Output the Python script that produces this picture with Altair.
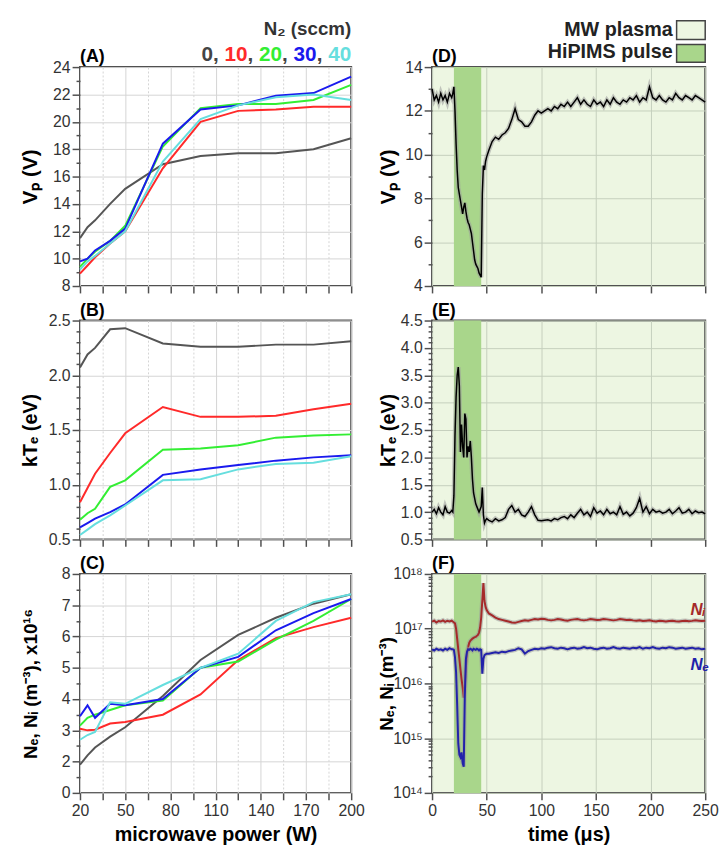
import altair as alt
import pandas as pd

FONT = "Liberation Sans"
LW, RW, H = 275, 277, 222

# ---------------- left column data ----------------
power = [20, 25, 30, 40, 50, 75, 100, 125, 150, 175, 200]
n2_levels = ["0", "10", "20", "30", "40"]
n2_colors = ["#555555", "#ff2a2a", "#33ee33", "#1a1aee", "#66dede"]

vp_power = {
    "0":  [11.5, 12.3, 12.8, 14.0, 15.1, 16.9, 17.5, 17.7, 17.7, 18.0, 18.8],
    "10": [8.9, 9.5, 10.1, 11.1, 12.0, 16.6, 20.0, 20.8, 20.9, 21.1, 21.1],
    "20": [9.4, 10.0, 10.5, 11.3, 12.4, 18.2, 21.0, 21.3, 21.3, 21.6, 22.7],
    "30": [9.8, 10.0, 10.6, 11.3, 12.2, 18.4, 20.9, 21.2, 21.9, 22.1, 23.3],
    "40": [9.2, 9.8, 10.2, 11.1, 12.0, 17.1, 20.2, 21.2, 21.8, 22.0, 21.6],
}
kte_power = {
    "0":  [2.07, 2.19, 2.25, 2.42, 2.43, 2.29, 2.26, 2.26, 2.28, 2.28, 2.31],
    "10": [0.84, 0.97, 1.10, 1.29, 1.47, 1.71, 1.62, 1.62, 1.63, 1.69, 1.74],
    "20": [0.68, 0.74, 0.78, 0.98, 1.04, 1.32, 1.33, 1.36, 1.43, 1.45, 1.46],
    "30": [0.61, 0.65, 0.69, 0.75, 0.82, 1.09, 1.14, 1.18, 1.22, 1.25, 1.27],
    "40": [0.54, 0.59, 0.64, 0.72, 0.81, 1.04, 1.05, 1.14, 1.19, 1.20, 1.26],
}
# values on the panel's printed scale (bottom gridline printed as "0")
n_power = {
    "0":  [1.9, 2.2, 2.45, 2.8, 3.1, 4.1, 5.25, 6.05, 6.6, 7.05, 7.35],
    "10": [3.05, 3.0, 3.02, 3.22, 3.27, 3.5, 4.15, 5.25, 5.95, 6.3, 6.6],
    "20": [3.15, 3.4, 3.5, 3.65, 3.8, 3.95, 5.0, 5.2, 5.9, 6.5, 7.2],
    "30": [3.45, 3.8, 3.4, 3.85, 3.8, 4.0, 5.0, 5.35, 6.2, 6.75, 7.2],
    "40": [2.7, 2.85, 2.95, 3.9, 3.85, 4.45, 5.0, 5.45, 6.5, 7.1, 7.35],
}

# ---------------- right column data ----------------
t_pre = [0, 2, 4, 6, 8, 10, 12, 14, 16, 18]
t_pulse = [19, 20, 21, 22, 23, 24, 25, 26, 27, 28, 29, 30, 31, 32, 33, 34, 35, 36,
           37, 38, 39, 40, 41, 42, 43, 44, 45, 46, 47, 48, 49, 50]
t_post = [52, 55, 58, 61, 64, 67, 70, 73, 76, 79,
          82, 85, 88, 91, 94, 97, 100, 103, 106, 109,
          112, 115, 118, 121, 124, 127, 130, 133, 136, 139,
          142, 145, 148, 151, 154, 157, 160, 163, 166, 169,
          172, 175, 178, 181, 184, 187, 190, 193, 196, 199,
          202, 205, 208, 211, 214, 217, 220, 223, 226, 229,
          232, 235, 238, 241, 244, 247, 250]
time_us = t_pre + t_pulse + t_post

vp_time = ([13.0, 12.5, 12.7, 12.4, 12.8, 12.5, 12.7, 12.4, 12.8, 12.6] +
           [12.8, 13.1, 12.0, 10.5, 9.3, 8.5, 8.2, 7.9, 7.6, 7.3,
            7.6, 7.8, 7.4, 7.1, 6.9, 6.8, 6.6, 6.4, 6.0, 5.6,
            5.2, 5.0, 4.9, 4.8, 4.6, 4.5, 4.4, 8.2, 9.5, 9.3,
            9.7, 9.9] +
           [10.2, 10.6, 10.8, 10.7, 10.9, 11.0, 11.2, 11.6, 12.1, 11.6,
            11.5, 11.3, 11.3, 11.5, 11.8, 12.0, 11.9, 12.0, 12.1, 12.0,
            12.2, 12.1, 12.3, 12.2, 12.4, 12.2, 12.4, 12.6, 12.3, 12.5,
            12.3, 12.2, 12.5, 12.3, 12.4, 12.2, 12.5, 12.3, 12.6, 12.4,
            12.3, 12.5, 12.4, 12.6, 12.5, 12.7, 12.4, 12.6, 12.5, 13.1,
            12.6, 12.5, 12.7, 12.5, 12.4, 12.6, 12.5, 12.8, 12.6, 12.5,
            12.7, 12.6, 12.5, 12.7, 12.6, 12.5, 12.4])

kte_time = ([1.0, 1.05, 0.97, 1.08, 1.0, 0.95, 1.1, 1.0, 0.98, 1.03] +
            [1.0, 1.3, 2.4, 3.1, 3.5, 3.65, 3.3, 2.1, 2.6, 2.2,
             2.0, 2.8, 2.7, 2.0, 2.2, 2.1, 2.3, 2.0, 1.6, 1.35,
             1.25, 1.15, 1.1, 1.05, 1.0, 1.05, 1.1, 1.45, 0.95, 0.8,
             0.85, 0.88] +
            [0.85, 0.82, 0.88, 0.84, 0.86, 0.9, 1.05, 1.12, 1.0, 1.05,
             0.95, 0.92, 1.0, 1.1, 0.95, 0.85, 0.84, 0.85, 0.86, 0.84,
             0.88, 0.86, 0.9, 0.92, 0.88, 0.95, 0.9, 0.98, 1.05, 0.95,
             1.0, 0.92, 1.08, 0.98, 1.02, 0.95, 1.05, 0.97, 1.0, 0.95,
             1.1, 0.96, 1.0, 0.93, 0.98, 1.08, 1.25, 1.0, 1.1, 0.97,
             1.05, 1.0, 1.02, 0.98, 1.0, 1.05, 0.97, 1.02, 1.08, 0.98,
             1.0, 1.05, 0.97, 1.02, 0.99, 1.0, 0.97])

ni_time = ([1.35e17, 1.4e17, 1.3e17, 1.38e17, 1.35e17, 1.42e17, 1.33e17, 1.4e17, 1.36e17, 1.4e17] +
           [1.35e17, 1.3e17, 1.25e17, 1.0e17, 6.5e16, 4.2e16, 2.8e16, 1.8e16, 1.2e16, 8.5e15,
            5.5e15, 9e15, 2e16, 3.5e16, 4.6e16, 5.5e16, 6.0e16, 6.3e16, 6.6e16, 6.8e16,
            7.0e16, 7.1e16, 7.4e16, 7.7e16, 8.5e16, 1.05e17, 1.6e17, 3.3e17, 6.8e17, 3.2e17,
            2.5e17, 2.2e17] +
           [1.9e17, 1.75e17, 1.6e17, 1.5e17, 1.45e17, 1.4e17, 1.35e17, 1.3e17, 1.28e17, 1.33e17,
            1.38e17, 1.42e17, 1.4e17, 1.45e17, 1.5e17, 1.48e17, 1.52e17, 1.5e17, 1.45e17, 1.42e17,
            1.45e17, 1.5e17, 1.47e17, 1.43e17, 1.4e17, 1.45e17, 1.48e17, 1.5e17, 1.45e17, 1.42e17,
            1.45e17, 1.5e17, 1.47e17, 1.44e17, 1.46e17, 1.5e17, 1.48e17, 1.45e17, 1.42e17, 1.45e17,
            1.5e17, 1.47e17, 1.44e17, 1.46e17, 1.42e17, 1.4e17, 1.43e17, 1.38e17, 1.4e17, 1.42e17,
            1.38e17, 1.36e17, 1.4e17, 1.38e17, 1.35e17, 1.38e17, 1.4e17, 1.37e17, 1.35e17, 1.38e17,
            1.4e17, 1.37e17, 1.39e17, 1.42e17, 1.4e17, 1.38e17, 1.4e17])

ne_time = ([4.2e16, 4.0e16, 4.3e16, 4.1e16, 4.2e16, 4.0e16, 4.3e16, 4.1e16, 4.4e16, 4.2e16] +
           [4.2e16, 4.1e16, 3.0e16, 1.6e16, 4e15, 8e14, 5e14, 4.5e14, 5.5e14, 3.5e14,
            3e14, 6e15, 2.8e16, 3.8e16, 4.2e16, 4.1e16, 4.3e16, 4.2e16, 4.0e16, 4.3e16,
            4.2e16, 4.1e16, 4.3e16, 4.2e16, 4.0e16, 4.2e16, 4.1e16, 1.5e16, 2.8e16, 3.3e16,
            3.4e16, 3.5e16] +
           [3.5e16, 3.6e16, 3.7e16, 3.6e16, 3.8e16, 3.7e16, 3.9e16, 4.0e16, 4.1e16, 4.4e16,
            4.2e16, 3.5e16, 3.9e16, 4.1e16, 4.3e16, 4.2e16, 4.4e16, 4.3e16, 4.5e16, 4.6e16,
            4.4e16, 4.3e16, 4.5e16, 4.4e16, 4.2e16, 4.4e16, 4.5e16, 4.3e16, 4.4e16, 4.6e16,
            4.4e16, 4.5e16, 4.3e16, 4.2e16, 4.4e16, 4.5e16, 4.3e16, 4.4e16, 4.6e16, 4.4e16,
            4.3e16, 4.5e16, 4.4e16, 4.3e16, 4.5e16, 4.4e16, 4.6e16, 4.3e16, 4.5e16, 4.4e16,
            4.6e16, 4.4e16, 4.3e16, 4.5e16, 4.4e16, 4.6e16, 4.5e16, 4.3e16, 4.4e16, 4.5e16,
            4.3e16, 4.4e16, 4.5e16, 4.3e16, 4.4e16, 4.2e16, 4.3e16])

pulse_window = {"start": [20], "end": [45]}

# axis tick values
x_left_ticks = [20, 35, 50, 65, 80, 95, 110, 125, 140, 155, 170, 185, 200]
x_right_ticks = [0, 25, 50, 75, 100, 125, 150, 175, 200, 225, 250]
yA_ticks = list(range(8, 25))
yB_ticks = [round(0.5 + 0.1 * i, 1) for i in range(21)]
yC_ticks = [1, 1.5, 2, 2.5, 3, 3.5, 4, 4.5, 5, 5.5, 6, 6.5, 7, 7.5, 8]
yD_ticks = list(range(4, 15))
yE_ticks = [round(0.5 + 0.1 * i, 1) for i in range(41)]
yF_ticks = [m * 10 ** e for e in range(14, 18) for m in range(1, 10)] + [10 ** 18]


def long_df(d):
    rows = []
    for lvl, vals in d.items():
        for p, v in zip(power, vals):
            rows.append({"power": p, "val": v, "n2": lvl})
    return pd.DataFrame(rows)


EVEN = "datum.value % 2 == 0"
HALF = "abs(datum.value*2 - round(datum.value*2)) < 0.001"
INT = "abs(datum.value - round(datum.value)) < 0.001"
DEC = "abs(log(datum.value)/LN10 - round(log(datum.value)/LN10)) < 0.001"


def yaxis(title, values, major, label_expr, title_x, tsize, grid_color="#d4d4d4"):
    return alt.Axis(
        title=title, values=values, labelExpr=label_expr,
        grid=True, gridColor=grid_color,
        gridOpacity={"condition": {"test": major, "value": 1}, "value": 0},
        tickSize={"condition": {"test": major, "value": 8}, "value": 4},
        labelPadding=2, titleFontSize=tsize,
        titleX=title_x, titleY=H / 2, titleBaseline="alphabetic",
        titleAngle=270, titleAlign="center")


def xaxis_left(show):
    major = "(datum.value - 20) % 30 == 0"
    return alt.Axis(
        values=x_left_ticks, labels=show, title="microwave power (W)" if show else None,
        labelExpr=f"{major} ? datum.label : ''",
        grid=True, gridColor="#d4d4d4",
        gridDash={"condition": {"test": major, "value": []}, "value": [2, 2]},
        tickSize=7, labelPadding=3, titlePadding=6, titleFontSize=20, labelFlush=False)


def xaxis_right(show):
    major = "datum.value % 50 == 0"
    return alt.Axis(
        values=x_right_ticks, labels=show, title="time (μs)" if show else None,
        labelExpr=f"{major} ? datum.label : ''",
        grid=True, gridColor="#c5cfbd",
        gridDash={"condition": {"test": major, "value": []}, "value": [2, 2]},
        tickSize=7, labelPadding=3, titlePadding=6, titleFontSize=20, labelFlush=False)


def txt(s, x, y, color, size, align="left", style="normal"):
    return alt.Chart(pd.DataFrame({"s": [s]})).mark_text(
        align=align, baseline="alphabetic", fontSize=size, fontWeight="bold",
        font=FONT, color=color, fontStyle=style).encode(
        text="s:N", x=alt.value(x), y=alt.value(y))


def panel_label(s):
    return txt(s, 0, -5, "black", 18)


def left_lines(d, ytitle, ydom, yvals, major, lexpr, tsize, show_x):
    df = long_df(d)
    return alt.Chart(df).mark_line(strokeWidth=2).encode(
        x=alt.X("power:Q", scale=alt.Scale(domain=[20, 200], nice=False), axis=xaxis_left(show_x)),
        y=alt.Y("val:Q", scale=alt.Scale(domain=ydom, nice=False, zero=False),
                axis=yaxis(ytitle, yvals, major, lexpr, -44, tsize)),
        color=alt.Color("n2:N", scale=alt.Scale(domain=n2_levels, range=n2_colors), legend=None),
        order=alt.Order("power:Q"),
    )


# ---- legend for left column (inside panel A) ----
def n2_legend():
    size = 21
    dw, cw = 0.556 * size, 0.278 * size
    layers = [txt("N₂ (sccm)", LW, -33, "#333333", 19, align="right")]
    total = 9 * dw + 8 * cw
    x = LW - total
    for i, (lvl, col) in enumerate(zip(n2_levels, n2_colors)):
        layers.append(txt(lvl, x, -6, col if i > 0 else "#444444", size))
        x += len(lvl) * dw
        if i < len(n2_levels) - 1:
            layers.append(txt(",", x, -6, "#444444", size))
            x += 2 * cw
    return layers


lA = left_lines(vp_power, "Vₚ (V)", [8, 24], yA_ticks, EVEN,
                f"{EVEN} ? datum.label : ''", 21, False)
lB = left_lines(kte_power, "kTₑ (eV)", [0.5, 2.5], yB_ticks, HALF,
                f"{HALF} ? format(datum.value, '.1f') : ''", 20, False)
lC = left_lines(n_power, "Nₑ, Nᵢ (m⁻³), x10¹⁶", [1, 8], yC_ticks, INT,
                f"{INT} ? (datum.value == 1 ? '0' : format(datum.value, 'd')) : ''", 19, True)

panelA = alt.layer(lA, panel_label("(A)"), *n2_legend()).properties(width=LW, height=H)
panelB = alt.layer(lB, panel_label("(B)")).properties(width=LW, height=H)
panelC = alt.layer(lC, panel_label("(C)")).properties(width=LW, height=H)

# ---- right column ----
bg = alt.ViewBackground(fill="#edf6e2", stroke="#505050", strokeWidth=2)
band_df = pd.DataFrame(pulse_window)


def band():
    return alt.Chart(band_df).mark_rect(color="#a9d68b").encode(
        x=alt.X("start:Q", scale=alt.Scale(domain=[0, 250], nice=False)),
        x2="end:Q", y=alt.value(0), y2=alt.value(H))


def right_series(df, ycol, ydom, yaxis_obj, show_x, color, width, scale_type="linear"):
    xs = alt.X("t:Q", scale=alt.Scale(domain=[0, 250], nice=False), axis=xaxis_right(show_x))
    if scale_type == "log":
        ys = alt.Y(f"{ycol}:Q", scale=alt.Scale(type="log", domain=ydom, nice=False), axis=yaxis_obj)
    else:
        ys = alt.Y(f"{ycol}:Q", scale=alt.Scale(domain=ydom, nice=False, zero=False), axis=yaxis_obj)
    return [
        alt.Chart(df).mark_line(color="#9a9a9a", strokeWidth=4.5, opacity=0.55).encode(x=xs, y=ys),
        alt.Chart(df).mark_line(color=color, strokeWidth=width).encode(x=xs, y=ys),
    ]


dfT = pd.DataFrame({"t": time_us, "vp": vp_time, "kte": kte_time, "ni": ni_time, "ne": ne_time})

axD = yaxis("Vₚ (V)", yD_ticks, EVEN, f"{EVEN} ? datum.label : ''", -38, 21, "#c5cfbd")
axE = yaxis("kTₑ (eV)", yE_ticks, HALF, f"{HALF} ? format(datum.value, '.1f') : ''", -38, 20, "#c5cfbd")
sup = ("datum.value == 1e14 ? '10¹⁴' : datum.value == 1e15 ? '10¹⁵' : "
       "datum.value == 1e16 ? '10¹⁶' : datum.value == 1e17 ? '10¹⁷' : "
       "datum.value == 1e18 ? '10¹⁸' : ''")
axF = yaxis("Nₑ, Nᵢ (m⁻³)", yF_ticks, DEC, sup, -40, 19, "#c5cfbd")


def box(y0, y1, fill):
    return alt.Chart(pd.DataFrame({"k": [0]})).mark_rect(
        fill=fill, stroke="#444444", strokeWidth=1.5).encode(
        x=alt.value(RW - 29), x2=alt.value(RW), y=alt.value(y0), y2=alt.value(y1))


legD = [txt("MW plasma", RW - 33, -32, "#222222", 20, align="right"),
        box(-47, -28, "#edf6e2"),
        txt("HiPIMS pulse", RW - 33, -9, "#222222", 20, align="right"),
        box(-23, -5, "#a9d68b")]

panelD = alt.layer(band(), *right_series(dfT, "vp", [4, 14], axD, False, "black", 1.5),
                   panel_label("(D)"), *legD).properties(width=RW, height=H, view=bg)
panelE = alt.layer(band(), *right_series(dfT, "kte", [0.5, 4.5], axE, False, "black", 1.5),
                   panel_label("(E)")).properties(width=RW, height=H, view=bg)
panelF = alt.layer(
    band(),
    *right_series(dfT, "ni", [1e14, 1e18], axF, True, "#a52a2a", 2, "log"),
    *right_series(dfT, "ne", [1e14, 1e18], axF, True, "#2222aa", 2, "log"),
    txt("Nᵢ", 262, 42, "#a52a2a", 17, style="italic"),
    txt("Nₑ", 262, 97, "#2222aa", 17, style="italic"),
    panel_label("(F)"),
).properties(width=RW, height=H, view=bg)

chart = alt.concat(panelA, panelD, panelB, panelE, panelC, panelF, columns=2,
                   spacing={"row": 35, "column": 82}, bounds="flush").properties(
    padding={"left": 11, "top": 5, "right": 0, "bottom": 0}
).configure(
    font=FONT
).configure_axis(
    labelFont=FONT, labelFontSize=16, labelColor="#333333", labelFontWeight="normal",
    titleFont=FONT, titleFontWeight="bold", titleColor="black",
    domain=False, tickColor="#505050", tickWidth=1.5, gridWidth=1,
).configure_view(stroke="#505050", strokeWidth=2)

chart.save("out.html", embed_options={"renderer": "svg", "actions": False})
